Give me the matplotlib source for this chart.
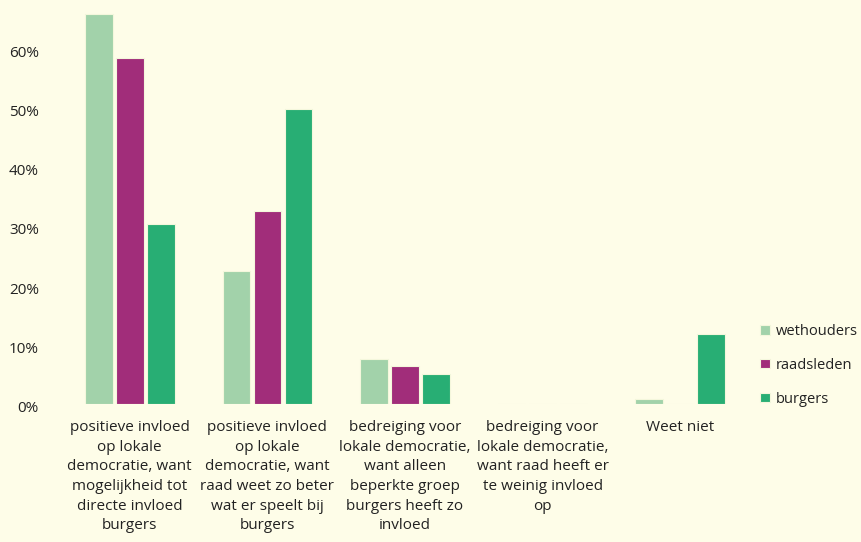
import matplotlib
matplotlib.use("Agg")
import matplotlib.pyplot as plt
import matplotlib.transforms as mtransforms
import numpy as np

categories = [
    "positieve invloed\nop lokale\ndemocratie, want\nmogelijkheid tot\ndirecte invloed\nburgers",
    "positieve invloed\nop lokale\ndemocratie, want\nraad weet zo beter\nwat er speelt bij\nburgers",
    "bedreiging voor\nlokale democratie,\nwant alleen\nbeperkte groep\nburgers heeft zo\ninvloed",
    "bedreiging voor\nlokale democratie,\nwant raad heeft er\nte weinig invloed\nop",
    "Weet niet",
]
series_names = ["wethouders", "raadsleden", "burgers"]
wethouders = [65.8, 22.4, 7.5, 0, 0.8]
raadsleden = [58.4, 32.5, 6.3, 0, 0]
burgers = [30.3, 49.8, 4.9, 0, 11.8]
yticks = [0, 10, 20, 30, 40, 50, 60]
ytick_labels = ["0%", "10%", "20%", "30%", "40%", "50%", "60%"]

colors = ["#a2d2aa", "#a12d7a", "#28ae74"]
bg = "#fefde8"

plt.rcParams['font.family'] = ['Open Sans', 'DejaVu Sans']

fig = plt.figure(figsize=(8.62, 5.42), dpi=100, facecolor=bg)
ax = fig.add_axes([61/862, (542-403.5)/542, (749-61)/862, 403.5/542])
ax.set_facecolor(bg)

x = np.arange(len(categories))
step = 0.225
width = 0.2
for i, (name, vals) in enumerate(zip(series_names, [wethouders, raadsleden, burgers])):
    ax.bar(x + (i - 1) * step, vals, width=width, color=colors[i], label=name,
           edgecolor="#f4f7dc", linewidth=0.8)

ax.set_xlim(-0.5, len(categories) - 0.5)
ax.set_ylim(0, 403.5/5.92)
ax.set_yticks(yticks)
ax.set_yticklabels(ytick_labels, fontsize=11, color="#222222")
ax.set_xticks(x)
ax.set_xticklabels(categories, fontsize=11, color="#222222", linespacing=1.42, va="top")
ax.tick_params(axis="y", length=0, pad=16)
ax.tick_params(axis="x", length=0, pad=12)
offset = mtransforms.ScaledTranslation(0, -3/100, fig.dpi_scale_trans)
for lbl in ax.get_yticklabels():
    lbl.set_transform(lbl.get_transform() + offset)
for s in ax.spines.values():
    s.set_visible(False)

leg = ax.legend(loc="lower left", bbox_to_anchor=(753/862, (542-414)/542),
                bbox_transform=fig.transFigure, frameon=False, fontsize=10.5,
                handlelength=0.65, handleheight=0.65, handletextpad=0.4,
                labelspacing=1.3, borderpad=0)
for t in leg.get_texts():
    t.set_color("#222222")

fig.savefig("out.png", dpi=100, facecolor=bg)
